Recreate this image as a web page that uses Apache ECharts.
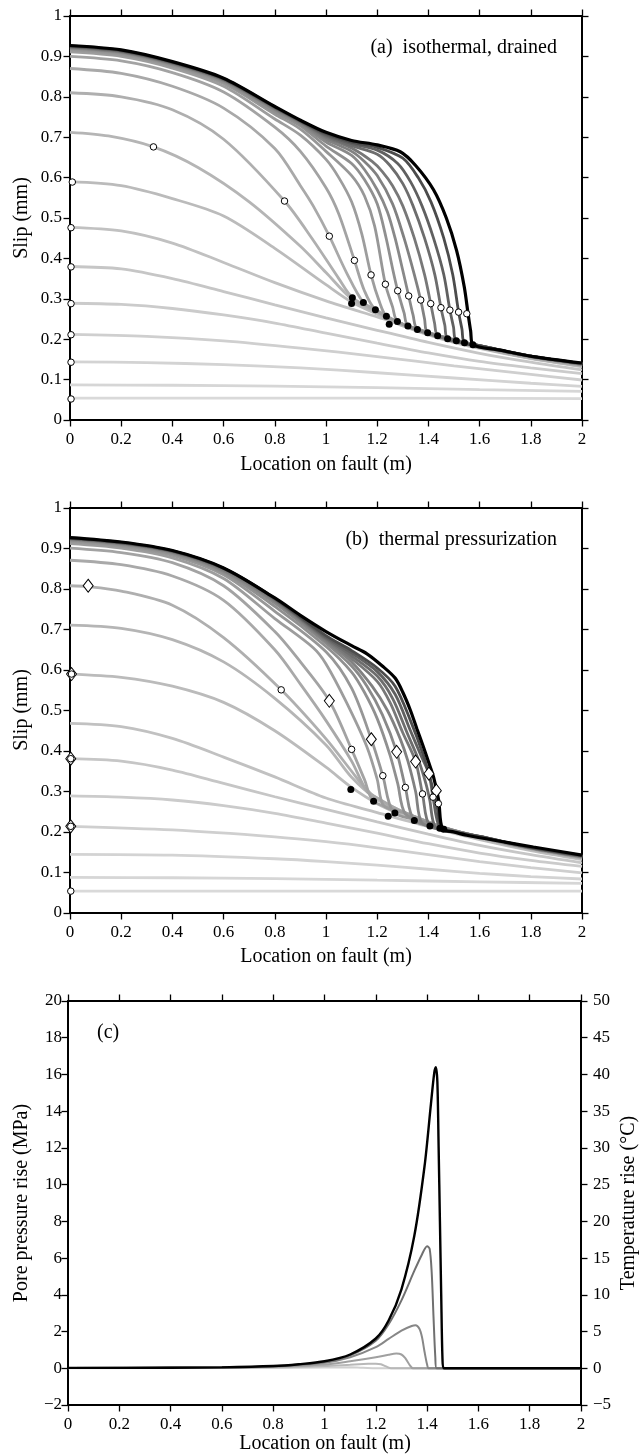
<!DOCTYPE html>
<html><head><meta charset="utf-8">
<script src="https://cdn.jsdelivr.net/npm/echarts@6/dist/echarts.min.js"></script>
<style>html,body{margin:0;padding:0;background:#fff}#c{width:640px;height:1455px}</style>
</head><body><div id="c"></div>
<script>
// ---------- axis ranges / ticks ----------
const xRange = [0, 2, 0.2];
const slipRange = [0, 1, 0.1];
const poreRange = [-2, 20, 2];
const tempRange = [-5, 50, 5];

// ---------- panel (a) slip profiles (x m, slip mm) ----------
const slipA = [
[[0,0.054],[0.5,0.054],[1,0.054],[1.5,0.054],[2,0.053]],
[[0,0.087],[0.4,0.086],[0.8,0.084],[1.2,0.08],[1.6,0.075],[2,0.071]],
[[0,0.144],[0.3,0.142],[0.6,0.137],[0.9,0.129],[1.2,0.117],[1.5,0.104],[1.8,0.091],[2,0.083]],
[[0,0.212],[0.3,0.207],[0.6,0.196],[0.9,0.178],[1.2,0.157],[1.5,0.134],[1.8,0.113],[2,0.099]],
[[0,0.289],[0.2,0.286],[0.4,0.276],[0.6,0.26],[0.8,0.24],[1.0,0.215],[1.2,0.19],[1.4,0.166],[1.6,0.145],[1.8,0.129],[2,0.115]],
[[0,0.38],[0.2,0.374],[0.4,0.35],[0.6,0.318],[0.8,0.285],[1.0,0.253],[1.2,0.222],[1.4,0.192],[1.6,0.165],[1.8,0.143],[2,0.124]],
[[0,0.477],[0.2,0.468],[0.4,0.438],[0.6,0.39],[0.8,0.34],[1.0,0.295],[1.2,0.255],[1.4,0.215],[1.6,0.18],[1.8,0.153],[2,0.132]],
[[0,0.59],[0.2,0.58],[0.4,0.548],[0.6,0.505],[0.8,0.425],[1.0,0.335],[1.1,0.292],[1.2,0.262],[1.3,0.233],[1.45,0.201],[1.6,0.177],[1.8,0.152],[2,0.133]],
[[0,0.712],[0.15,0.703],[0.326,0.676],[0.5,0.625],[0.7,0.54],[0.9,0.43],[1.0,0.365],[1.1,0.3],[1.2,0.266],[1.3,0.235],[1.45,0.203],[1.6,0.179],[1.8,0.153],[2,0.134]],
[[0,0.81],[0.2,0.8],[0.4,0.768],[0.6,0.695],[0.838,0.542],[0.95,0.445],[1.05,0.35],[1.103,0.303],[1.2,0.268],[1.3,0.236],[1.45,0.204],[1.6,0.18],[1.8,0.154],[2,0.135]],
[[0,0.870],[0.2,0.858],[0.4,0.826],[0.6,0.772],[0.8,0.672],[0.9,0.58],[0.95,0.53],[1.013,0.455],[1.08,0.365],[1.146,0.291],[1.2,0.271],[1.3,0.237],[1.45,0.205],[1.6,0.181],[1.8,0.155],[2,0.136]],
[[0,0.900],[0.2,0.889],[0.4,0.860],[0.6,0.812],[0.8,0.725],[0.9,0.665],[1.0,0.575],[1.05,0.51],[1.111,0.395],[1.15,0.32],[1.193,0.273],[1.3,0.237],[1.45,0.205],[1.6,0.182],[1.8,0.156],[2,0.137]],
[[0,0.911],[0.2,0.900],[0.4,0.871],[0.6,0.826],[0.8,0.745],[0.9,0.705],[1.0,0.645],[1.05,0.6],[1.1,0.54],[1.14,0.46],[1.176,0.359],[1.21,0.29],[1.236,0.257],[1.32,0.233],[1.45,0.206],[1.6,0.182],[1.8,0.156],[2,0.137]],
[[0,0.916],[0.2,0.905],[0.4,0.876],[0.6,0.833],[0.8,0.757],[0.9,0.72],[1.0,0.665],[1.1,0.605],[1.15,0.555],[1.19,0.48],[1.232,0.336],[1.26,0.28],[1.279,0.244],[1.36,0.225],[1.45,0.207],[1.6,0.183],[1.8,0.157],[2,0.138]],
[[0,0.919],[0.2,0.908],[0.4,0.879],[0.6,0.837],[0.8,0.763],[0.9,0.728],[1.0,0.678],[1.1,0.635],[1.15,0.595],[1.2,0.535],[1.235,0.45],[1.26,0.375],[1.28,0.320],[1.305,0.265],[1.32,0.2325],[1.4,0.216],[1.5,0.198],[1.6,0.183],[1.8,0.157],[2,0.138]],
[[0,0.921],[0.2,0.910],[0.4,0.881],[0.6,0.840],[0.8,0.768],[0.9,0.733],[1.0,0.688],[1.1,0.655],[1.15,0.62],[1.2,0.57],[1.24,0.515],[1.27,0.45],[1.30,0.37],[1.323,0.307],[1.34,0.26],[1.357,0.224],[1.45,0.207],[1.6,0.184],[1.8,0.157],[2,0.138]],
[[0,0.922],[0.2,0.911],[0.4,0.882],[0.6,0.841],[0.8,0.770],[0.9,0.736],[1.0,0.695],[1.1,0.665],[1.15,0.64],[1.2,0.605],[1.26,0.535],[1.305,0.45],[1.345,0.36],[1.370,0.297],[1.385,0.25],[1.397,0.216],[1.5,0.198],[1.6,0.184],[1.8,0.158],[2,0.139]],
[[0,0.923],[0.2,0.912],[0.4,0.883],[0.6,0.842],[0.8,0.772],[0.9,0.738],[1.0,0.70],[1.1,0.673],[1.18,0.64],[1.22,0.615],[1.26,0.58],[1.3,0.53],[1.345,0.45],[1.385,0.36],[1.409,0.288],[1.424,0.24],[1.436,0.2085],[1.5,0.198],[1.6,0.184],[1.8,0.158],[2,0.139]],
[[0,0.924],[0.2,0.913],[0.4,0.884],[0.6,0.843],[0.8,0.773],[0.9,0.739],[1.0,0.703],[1.1,0.679],[1.2,0.658],[1.25,0.63],[1.3,0.585],[1.34,0.53],[1.385,0.45],[1.425,0.36],[1.449,0.278],[1.464,0.235],[1.475,0.201],[1.55,0.19],[1.7,0.17],[1.8,0.158],[2,0.139]],
[[0,0.925],[0.2,0.914],[0.4,0.885],[0.6,0.844],[0.8,0.774],[0.9,0.740],[1.0,0.706],[1.1,0.684],[1.2,0.668],[1.28,0.635],[1.33,0.59],[1.375,0.53],[1.42,0.45],[1.46,0.36],[1.484,0.272],[1.498,0.23],[1.509,0.196],[1.6,0.184],[1.8,0.158],[2,0.14]],
[[0,0.926],[0.2,0.915],[0.4,0.886],[0.6,0.845],[0.8,0.775],[0.9,0.741],[1.0,0.709],[1.1,0.688],[1.2,0.675],[1.3,0.648],[1.36,0.6],[1.41,0.54],[1.46,0.45],[1.495,0.36],[1.518,0.267],[1.531,0.225],[1.541,0.191],[1.6,0.184],[1.8,0.158],[2,0.14]],
[[0,0.927],[0.2,0.916],[0.4,0.887],[0.6,0.846],[0.8,0.776],[0.9,0.742],[1.0,0.712],[1.1,0.692],[1.2,0.681],[1.29,0.664],[1.35,0.63],[1.42,0.57],[1.47,0.50],[1.51,0.42],[1.54,0.33],[1.555,0.263],[1.565,0.22],[1.574,0.186],[1.68,0.173],[1.81,0.157],[2,0.141]]
];
const openA = [[0.004,0.052],[0.004,0.143],[0.004,0.211],[0.004,0.288],[0.004,0.379],[0.004,0.476],[0.009,0.589],[0.326,0.676],[0.838,0.542],[1.013,0.455],[1.111,0.395],[1.176,0.359],[1.232,0.336],[1.280,0.320],[1.323,0.307],[1.370,0.297],[1.409,0.288],[1.449,0.278],[1.484,0.272],[1.518,0.267],[1.550,0.263]];
const filledA = [[1.100,0.2885],[1.103,0.3026],[1.146,0.291],[1.193,0.273],[1.236,0.257],[1.247,0.237],[1.279,0.244],[1.320,0.2325],[1.357,0.224],[1.397,0.216],[1.436,0.2085],[1.475,0.201],[1.509,0.196],[1.541,0.191],[1.574,0.186]];

// ---------- panel (b) slip profiles ----------
const slipB = [
[[0,0.054],[0.5,0.054],[1,0.054],[1.5,0.054],[2,0.054]],
[[0,0.088],[0.4,0.087],[0.8,0.085],[1.2,0.081],[1.6,0.077],[2,0.073]],
[[0,0.145],[0.4,0.143],[0.8,0.134],[1.0,0.127],[1.2,0.118],[1.4,0.108],[1.6,0.098],[1.8,0.09],[2,0.084]],
[[0,0.214],[0.4,0.205],[0.8,0.188],[1.0,0.176],[1.2,0.161],[1.4,0.144],[1.6,0.127],[1.8,0.112],[2,0.099]],
[[0,0.289],[0.2,0.286],[0.4,0.279],[0.6,0.265],[0.8,0.246],[1.0,0.222],[1.2,0.197],[1.4,0.171],[1.6,0.148],[1.8,0.13],[2,0.115]],
[[0,0.381],[0.2,0.375],[0.4,0.353],[0.6,0.32],[0.8,0.287],[1.0,0.256],[1.2,0.225],[1.4,0.195],[1.6,0.167],[1.8,0.144],[2,0.124]],
[[0,0.468],[0.2,0.46],[0.4,0.431],[0.6,0.385],[0.8,0.336],[1.0,0.284],[1.2,0.248],[1.4,0.213],[1.6,0.181],[1.8,0.154],[2,0.132]],
[[0,0.59],[0.2,0.582],[0.4,0.56],[0.6,0.52],[0.8,0.45],[1.0,0.36],[1.1,0.31],[1.2,0.27],[1.3,0.242],[1.45,0.21],[1.6,0.183],[1.8,0.156],[2,0.134]],
[[0,0.711],[0.2,0.703],[0.4,0.675],[0.6,0.62],[0.8,0.53],[1.0,0.415],[1.1,0.335],[1.2,0.28],[1.3,0.248],[1.45,0.212],[1.6,0.185],[1.8,0.157],[2,0.135]],
[[0,0.808],[0.071,0.806],[0.2,0.795],[0.4,0.76],[0.6,0.68],[0.825,0.551],[1.0,0.43],[1.1,0.35],[1.15,0.31],[1.2,0.283],[1.3,0.25],[1.45,0.214],[1.6,0.187],[1.8,0.159],[2,0.136]],
[[0,0.871],[0.2,0.86],[0.4,0.832],[0.6,0.772],[0.8,0.65],[0.9,0.565],[1.0,0.475],[1.1,0.375],[1.16,0.3],[1.2,0.284],[1.3,0.25],[1.45,0.213],[1.6,0.187],[1.8,0.159],[2,0.137]],
[[0,0.901],[0.2,0.89],[0.4,0.865],[0.6,0.808],[0.8,0.695],[0.9,0.62],[1.013,0.524],[1.10,0.404],[1.15,0.33],[1.186,0.276],[1.3,0.25],[1.45,0.213],[1.6,0.187],[1.8,0.159],[2,0.137]],
[[0,0.912],[0.2,0.901],[0.4,0.877],[0.6,0.826],[0.8,0.727],[0.95,0.655],[1.0,0.615],[1.08,0.52],[1.16,0.41],[1.2,0.33],[1.225,0.265],[1.3,0.248],[1.45,0.213],[1.6,0.187],[1.8,0.16],[2,0.138]],
[[0,0.917],[0.2,0.906],[0.4,0.883],[0.6,0.835],[0.8,0.745],[1.0,0.645],[1.1,0.555],[1.177,0.429],[1.222,0.339],[1.262,0.25],[1.35,0.23],[1.45,0.212],[1.6,0.188],[1.8,0.16],[2,0.138]],
[[0,0.92],[0.2,0.909],[0.4,0.887],[0.6,0.84],[0.8,0.757],[1.0,0.658],[1.1,0.595],[1.15,0.545],[1.2,0.48],[1.25,0.39],[1.28,0.32],[1.31,0.245],[1.4,0.222],[1.5,0.204],[1.6,0.188],[1.8,0.16],[2,0.139]],
[[0,0.922],[0.2,0.911],[0.4,0.89],[0.6,0.844],[0.8,0.765],[1.0,0.666],[1.1,0.61],[1.16,0.56],[1.22,0.49],[1.276,0.398],[1.31,0.31],[1.345,0.2285],[1.45,0.211],[1.6,0.188],[1.8,0.16],[2,0.139]],
[[0,0.923],[0.2,0.912],[0.4,0.891],[0.6,0.846],[0.8,0.77],[1.0,0.671],[1.1,0.62],[1.18,0.56],[1.24,0.5],[1.29,0.43],[1.32,0.375],[1.35,0.3],[1.375,0.222],[1.45,0.21],[1.6,0.188],[1.8,0.161],[2,0.14]],
[[0,0.924],[0.2,0.913],[0.4,0.892],[0.6,0.848],[0.8,0.773],[1.0,0.675],[1.1,0.628],[1.2,0.572],[1.25,0.52],[1.3,0.445],[1.35,0.374],[1.377,0.294],[1.406,0.215],[1.5,0.202],[1.6,0.189],[1.8,0.161],[2,0.14]],
[[0,0.925],[0.2,0.914],[0.4,0.893],[0.6,0.85],[0.8,0.775],[1.0,0.678],[1.1,0.635],[1.2,0.585],[1.26,0.53],[1.32,0.44],[1.36,0.38],[1.39,0.32],[1.405,0.28],[1.428,0.211],[1.5,0.201],[1.6,0.189],[1.8,0.161],[2,0.141]],
[[0,0.925],[0.2,0.914],[0.4,0.894],[0.6,0.851],[0.8,0.776],[1.0,0.681],[1.1,0.642],[1.2,0.596],[1.27,0.54],[1.33,0.45],[1.37,0.39],[1.402,0.344],[1.418,0.286],[1.445,0.2095],[1.5,0.2],[1.6,0.189],[1.8,0.162],[2,0.141]],
[[0,0.926],[0.2,0.915],[0.4,0.894],[0.6,0.851],[0.8,0.777],[1.0,0.685],[1.1,0.648],[1.2,0.605],[1.27,0.56],[1.33,0.475],[1.38,0.39],[1.41,0.325],[1.432,0.27],[1.452,0.208],[1.5,0.2],[1.6,0.189],[1.8,0.162],[2,0.142]],
[[0,0.927],[0.2,0.916],[0.4,0.895],[0.6,0.852],[0.8,0.778],[0.9,0.735],[1.0,0.695],[1.1,0.66],[1.16,0.64],[1.22,0.61],[1.27,0.58],[1.3,0.545],[1.33,0.5],[1.355,0.455],[1.38,0.411],[1.4,0.374],[1.42,0.336],[1.44,0.279],[1.455,0.208],[1.5,0.2],[1.55,0.192],[1.7,0.175],[1.81,0.163],[2,0.143]]
];
const openB = [[0.003,0.054],[0.003,0.214],[0.003,0.381],[0.006,0.59],[0.825,0.551],[1.100,0.404],[1.222,0.339],[1.310,0.310],[1.377,0.294],[1.418,0.286],[1.439,0.270]];
const diamondB = [[0.003,0.214],[0.003,0.381],[0.006,0.59],[0.071,0.808],[1.013,0.524],[1.177,0.429],[1.276,0.398],[1.350,0.374],[1.402,0.344],[1.431,0.302]];
const filledB = [[1.097,0.305],[1.186,0.276],[1.243,0.239],[1.269,0.247],[1.345,0.2285],[1.406,0.215],[1.445,0.2095],[1.460,0.207]];

// ---------- panel (c) pore pressure rise (MPa) ----------
const poreC = [
[[0,0],[0.8,0.02],[1.0,0.04],[1.1,0.05],[1.15,0.03],[1.2,0],[1.3,0],[2,0]],
[[0,0.01],[0.8,0.05],[1.0,0.12],[1.1,0.19],[1.17,0.24],[1.2,0.25],[1.22,0.22],[1.24,0.1],[1.26,0],[1.3,0],[2,0]],
[[0,0.02],[0.6,0.04],[0.8,0.08],[1.0,0.2],[1.1,0.38],[1.2,0.6],[1.25,0.74],[1.28,0.8],[1.3,0.75],[1.315,0.55],[1.33,0.22],[1.345,0],[1.4,0],[2,0]],
[[0,0.02],[0.6,0.05],[0.8,0.1],[1.0,0.3],[1.1,0.6],[1.2,1.15],[1.25,1.6],[1.3,2.05],[1.34,2.3],[1.355,2.34],[1.37,2.15],[1.38,1.7],[1.39,0.9],[1.4,0.2],[1.406,0],[1.45,0],[2,0]],
[[0,0.02],[0.6,0.05],[0.8,0.11],[1.0,0.34],[1.1,0.7],[1.2,1.5],[1.25,2.4],[1.3,3.7],[1.35,5.3],[1.38,6.2],[1.4,6.65],[1.41,6.5],[1.418,5.2],[1.425,2.8],[1.432,0.6],[1.437,0],[1.5,0],[2,0]],
[[0,0.02],[0.4,0.03],[0.6,0.05],[0.8,0.12],[0.9,0.22],[1.0,0.38],[1.1,0.75],[1.2,1.62],[1.25,2.6],[1.3,4.3],[1.35,7.2],[1.39,11.0],[1.415,14.4],[1.428,16.1],[1.434,16.4],[1.44,15.6],[1.445,12],[1.45,8],[1.455,4],[1.46,0.5],[1.465,0],[1.52,0],[2,0]]
];

const colorsA = ['#d9d9d9','#d6d6d6','#d3d3d3','#cfcfcf','#cbcbcb','#c6c6c6','#c1c1c1','#bbbbbb','#b5b5b5','#afafaf','#a9a9a9','#a3a3a3','#9d9d9d','#979797','#909090','#898989','#818181','#787878','#6d6d6d','#606060','#4c4c4c','#000000'];
const colorsC = ['#d0d0d0','#b8b8b8','#a0a0a0','#878787','#707070','#000000'];

const FONT = "Liberation Serif";
const fmt = v => String(Math.round(v * 10) / 10).replace('-', '\u2212');

function xAxisDef(grid, pos, show) {
  return {type:'value', gridIndex:grid, position:pos, min:xRange[0], max:xRange[1], interval:xRange[2],
    axisLine:{show:true, onZero:false, lineStyle:{color:'#000', width:2}},
    axisTick:{show:true, inside:false, length:6.5, lineStyle:{color:'#000', width:1.3}},
    axisLabel:{show:show, margin:11, color:'#000', fontFamily:FONT, fontSize:17, formatter:fmt},
    splitLine:{show:false}};
}
function yAxisDef(grid, pos, show, r, margin) {
  return {type:'value', gridIndex:grid, position:pos, min:r[0], max:r[1], interval:r[2],
    axisLine:{show:true, onZero:false, lineStyle:{color:'#000', width:2}},
    axisTick:{show:true, inside:false, length:6.5, lineStyle:{color:'#000', width:1.3}},
    axisLabel:{show:show, margin:margin, color:'#000', fontFamily:FONT, fontSize:17, formatter:fmt},
    splitLine:{show:false}};
}

const series = [];
function addLines(arr, colors, xi, yi, w, sm) {
  arr.forEach((d, i) => series.push({type:'line', xAxisIndex:xi, yAxisIndex:yi, data:d, symbol:'none',
    smooth:sm, silent:true, z:2,
    lineStyle:{color:colors[i], width:(i === arr.length - 1 ? w + 0.4 : w)}}));
}
function addScatter(d, xi, yi, symbol, size, fill, bw) {
  series.push({type:'scatter', xAxisIndex:xi, yAxisIndex:yi, data:d, symbol:symbol, symbolSize:size, z:5, silent:true,
    itemStyle:{color:fill, borderColor:'#000', borderWidth:bw, opacity:1}});
}
addLines(slipA, colorsA, 0, 0, 2.8, 0.3);
addScatter(openA, 0, 0, 'circle', 6.5, '#fff', 1);
addScatter(filledA, 0, 0, 'circle', 7, '#000', 0);
addLines(slipB, colorsA, 2, 2, 2.8, 0.3);
addScatter(diamondB, 2, 2, 'diamond', [10, 13], '#fff', 1);
addScatter(openB, 2, 2, 'circle', 6.5, '#fff', 1);
addScatter(filledB, 2, 2, 'circle', 7, '#000', 0);
addLines(poreC, colorsC, 4, 4, 2, 0.3);

function txt(x, y, s, align, rot) {
  return {type:'text', x:x, y:y, rotation:rot || 0, silent:true,
    style:{text:s, font:'20px ' + FONT, fill:'#000', textAlign:align, textVerticalAlign:'middle', align:align, verticalAlign:'middle'}};
}

const option = {
  animation:false,
  backgroundColor:'#fff',
  textStyle:{fontFamily:FONT},
  grid:[
    {left:70, top:16, width:512, height:404},
    {left:70, top:508, width:512, height:405},
    {left:68, top:1001, width:513, height:404}
  ],
  xAxis:[xAxisDef(0,'bottom',true), xAxisDef(0,'top',false), xAxisDef(1,'bottom',true), xAxisDef(1,'top',false), xAxisDef(2,'bottom',true), xAxisDef(2,'top',false)],
  yAxis:[yAxisDef(0,'left',true,slipRange,8), yAxisDef(0,'right',false,slipRange,8),
         yAxisDef(1,'left',true,slipRange,8), yAxisDef(1,'right',false,slipRange,8),
         yAxisDef(2,'left',true,poreRange,6), yAxisDef(2,'right',true,tempRange,12)],
  series:series,
  graphic:[
    txt(557, 48, '(a)  isothermal, drained', 'right'),
    txt(557, 540, '(b)  thermal pressurization', 'right'),
    txt(97, 1033, '(c)', 'left'),
    txt(326, 465, 'Location on fault (m)', 'center'),
    txt(326, 957, 'Location on fault (m)', 'center'),
    txt(325, 1444, 'Location on fault (m)', 'center'),
    txt(22, 218, 'Slip (mm)', 'center', Math.PI / 2),
    txt(22, 710, 'Slip (mm)', 'center', Math.PI / 2),
    txt(22, 1203, 'Pore pressure rise (MPa)', 'center', Math.PI / 2),
    txt(629, 1203, 'Temperature rise (\u00B0C)', 'center', Math.PI / 2)
  ]
};
const chart = echarts.init(document.getElementById('c'), null, {renderer:'canvas', width:640, height:1455});
chart.setOption(option);
</script></body></html>
